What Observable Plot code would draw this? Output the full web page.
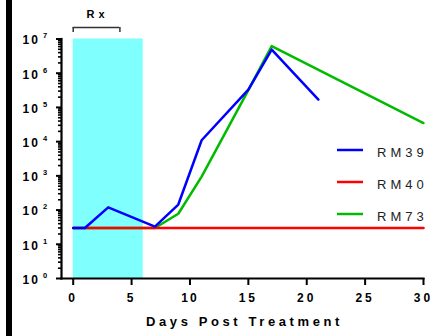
<!DOCTYPE html>
<html>
<head>
<meta charset="utf-8">
<script src="https://cdn.jsdelivr.net/npm/d3@7"></script>
<script src="https://cdn.jsdelivr.net/npm/@observablehq/plot@0.6"></script>
<style>
  html, body { margin: 0; padding: 0; background: #fff; }
  #wrap { position: relative; width: 434px; height: 336px; overflow: hidden; }
  #bar { position: absolute; left: 6px; top: 0; width: 6px; height: 336px; background: #000; z-index: 10; }
  svg text { font-family: "Liberation Sans", Arial, sans-serif; }
  g[aria-label="x-axis tick label"] text { letter-spacing: 3px; font-weight: bold; font-size: 12px; }
</style>
</head>
<body>
<div id="wrap"><div id="bar"></div><div id="chart"></div></div>
<script>
// ---- data ----
const seriesNames = ["RM39", "RM40", "RM73"];
const seriesColors = ["#0000ff", "#ff0000", "#00bb00"];
const rm39Days = [0, 1, 3, 7, 9, 11, 15, 17, 21];
const rm39Values = [30, 30, 120, 33, 145, 11000, 330000, 4900000, 170000];
const rm40Days = [0, 1, 3, 7, 9, 11, 15, 17, 21, 30];
const rm40Values = [30, 30, 30, 30, 30, 30, 30, 30, 30, 30];
const rm73Days = [0, 7, 9, 11, 15, 17, 30];
const rm73Values = [30, 30, 78, 950, 320000, 6200000, 35000];
const shadeDays = [0, 6];          // treatment shading
const rxDays = [0, 4];             // "Rx" bracket
const rxLabel = "Rx";
const xTicks = [0, 5, 10, 15, 20, 25, 30];
const yExponents = [0, 1, 2, 3, 4, 5, 6, 7];
const xLabel = "Days Post Treatment";

const toRows = (name, days, vals) => days.map((d, i) => ({series: name, day: d, value: vals[i]}));
const rows39 = toRows("RM39", rm39Days, rm39Values);
const rows40 = toRows("RM40", rm40Days, rm40Values);
const rows73 = toRows("RM73", rm73Days, rm73Values);

const yMin = 10 ** yExponents[0];
const yMax = 10 ** yExponents[yExponents.length - 1];
const minorTicks = [];
for (const e of yExponents.slice(0, -1)) for (let k = 2; k <= 9; k++) minorTicks.push(k * 10 ** e);
const majorTicks = yExponents.map(e => 10 ** e);

const plot = Plot.plot({
  width: 434,
  height: 336,
  marginLeft: 61,
  marginRight: 11,
  marginTop: 38.5,
  marginBottom: 58,
  style: {fontFamily: "Liberation Sans, Arial, sans-serif", color: "#000", background: "transparent"},
  x: {domain: [0, 30], range: [72.7, 423]},
  y: {type: "log", domain: [yMin, yMax]},
  marks: [
    Plot.rect([shadeDays], {x1: d => d[0], x2: d => d[1], fill: "#80ffff"}),
    // y axis
    Plot.axisY({ticks: minorTicks, tickSize: 3, tickFormat: () => "", strokeWidth: 1.6, label: null}),
    Plot.axisY({ticks: majorTicks, tickSize: 5, tickFormat: () => "", strokeWidth: 2, label: null}),
    Plot.frame({anchor: "left", strokeWidth: 2.2}),
    // x axis
    Plot.axisX({ticks: xTicks, tickSize: 7, tickPadding: 8, strokeWidth: 2, label: null, tickFormat: d => String(d)}),
    Plot.frame({anchor: "bottom", strokeWidth: 2.2}),
    // y tick labels 10^n
    Plot.text(yExponents, {y: d => 10 ** d, text: () => "10", frameAnchor: "left", dx: -39, dy: 1.5, textAnchor: "start",
      fontWeight: "bold", fontSize: 12}),
    Plot.text(yExponents, {y: d => 10 ** d, text: d => String(d), frameAnchor: "left", dx: -18.5, dy: -3, textAnchor: "start",
      fontWeight: "bold", fontSize: 7.5}),
    // x label
    Plot.text([xLabel], {frameAnchor: "bottom", text: d => d, dy: 47, dx: 2, fontWeight: "bold", fontSize: 13}),
    // Rx bracket
    Plot.ruleY([yMax], {x1: () => rxDays[0], x2: () => rxDays[1], dy: -11.5, stroke: "#333", strokeWidth: 1.5}),
    Plot.ruleX(rxDays, {y1: () => yMax, y2: () => yMax, insetTop: -11.5, insetBottom: 6.5, stroke: "#333", strokeWidth: 1.5}),
    Plot.text([rxLabel], {x: () => (rxDays[0] + rxDays[1]) / 2, y: () => yMax, dy: -24.5, dx: 1, text: d => d, fontWeight: "bold", fontSize: 11}),
    // series
    Plot.line(rows73, {x: "day", y: "value", stroke: seriesColors[2], strokeWidth: 2.5}),
    Plot.line(rows40, {x: "day", y: "value", stroke: seriesColors[1], strokeWidth: 2.5}),
    Plot.line(rows39, {x: "day", y: "value", stroke: seriesColors[0], strokeWidth: 2.5})
  ]
});

// letter spacing on custom text
const sel = d3.select(plot).selectAll("text");
sel.filter(function() { return this.textContent === xLabel; }).style("letter-spacing", "3.6px");
sel.filter(function() { return this.textContent === rxLabel; }).style("letter-spacing", "4px");
sel.filter(function() { return this.textContent === "10"; }).style("letter-spacing", "2px");

// legend (inside plot area)
const leg = d3.select(plot).append("g").attr("class", "leg").attr("text-anchor", "start");
seriesNames.forEach((name, i) => {
  const y = 150 + i * 32;
  leg.append("line").attr("x1", 337).attr("x2", 363).attr("y1", y).attr("y2", y)
    .attr("stroke", seriesColors[i]).attr("stroke-width", 2.5);
  leg.append("text").attr("x", 377).attr("y", y + 3).attr("dy", "0.32em")
    .attr("font-size", 13).attr("fill", "#222").style("letter-spacing", "4px").text(name);
});

document.getElementById("chart").appendChild(plot);
</script>
</body>
</html>
